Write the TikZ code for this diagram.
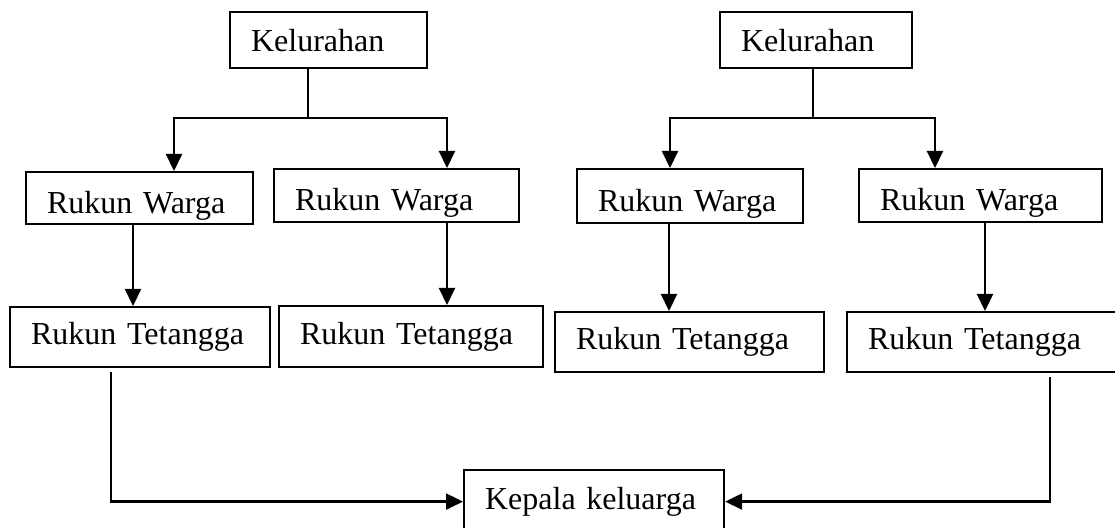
\documentclass[tikz,border=0pt]{standalone}
\usepackage{fontspec}
\setmainfont{Liberation Serif}
\usepackage{tikz}
\usetikzlibrary{positioning,arrows.meta,calc}

\tikzset{
  unitbox/.style={draw, line width=1.1pt, anchor=north west, align=left,
    inner xsep=10.5pt, inner ysep=0pt, font=\fontsize{16}{19}\selectfont},
  rwtext/.style={text height=15pt, text depth=0pt},
  link/.style={line width=1.1pt},
  arr/.style={line width=1.1pt, -{Triangle[length=8.5pt, width=8pt]}}
}

\begin{document}
\begin{tikzpicture}[x=0.5pt, y=-0.5pt]

\useasboundingbox (0,0) rectangle (1115,528);

% kelurahan
\node[unitbox, text width=77.5pt, minimum height=28pt] (kelA) at (229,11) {Kelurahan};
\node[unitbox, text width=75pt, minimum height=28pt] (kelB) at (719,11) {Kelurahan};

% rukun warga
\node[unitbox, rwtext, text width=92.5pt, minimum height=26pt] (rwA) at (25,171) {Rukun Warga};
\node[unitbox, rwtext, text width=101.5pt, minimum height=26.5pt] (rwB) at (273,168) {Rukun Warga};
\node[unitbox, rwtext, text width=92pt, minimum height=27pt] (rwC) at (576,168) {Rukun Warga};
\node[unitbox, rwtext, text width=100.5pt, minimum height=26.5pt] (rwD) at (858,168) {Rukun Warga};

% rukun tetangga
\node[unitbox, text width=109pt, minimum height=30pt] (rtA) at (9,306) {Rukun Tetangga};
\node[unitbox, text width=111pt, minimum height=30.5pt] (rtB) at (278,305) {Rukun Tetangga};
\node[unitbox, text width=113.5pt, minimum height=30pt] (rtC) at (554,311) {Rukun Tetangga};
\node[unitbox, text width=118.5pt, minimum height=30pt] (rtD) at (846,311) {Rukun Tetangga};

% kepala keluarga
\node[unitbox, text width=109pt, minimum height=31.5pt] (kk) at (463,469) {Kepala keluarga};

% kelurahan -> rukun warga
\coordinate (splitA) at (308,118);
\coordinate (splitB) at (813,118);
\draw[link] (kelA.south -| splitA) -- (splitA);
\draw[arr] (splitA) -| (rwA.north -| 174,0);
\draw[arr] (splitA) -| (rwB.north -| 447,0);
\draw[link] (kelB.south -| splitB) -- (splitB);
\draw[arr] (splitB) -| (rwC.north -| 670,0);
\draw[arr] (splitB) -| (rwD.north -| 935,0);

% rukun warga -> rukun tetangga
\draw[arr] (rwA.south -| 133,0) -- (rtA.north -| 133,0);
\draw[arr] (rwB.south -| 447,0) -- (rtB.north -| 447,0);
\draw[arr] (rwC.south -| 669,0) -- (rtC.north -| 669,0);
\draw[arr] (rwD.south -| 985,0) -- (rtD.north -| 985,0);

% rukun tetangga -> kepala keluarga
\draw[arr, shorten <=2pt] (rtA.south -| 111,0) |- (kk.west);
\draw[arr, shorten <=2pt] (rtD.south -| 1050,0) |- (kk.east);

\end{tikzpicture}
\end{document}
